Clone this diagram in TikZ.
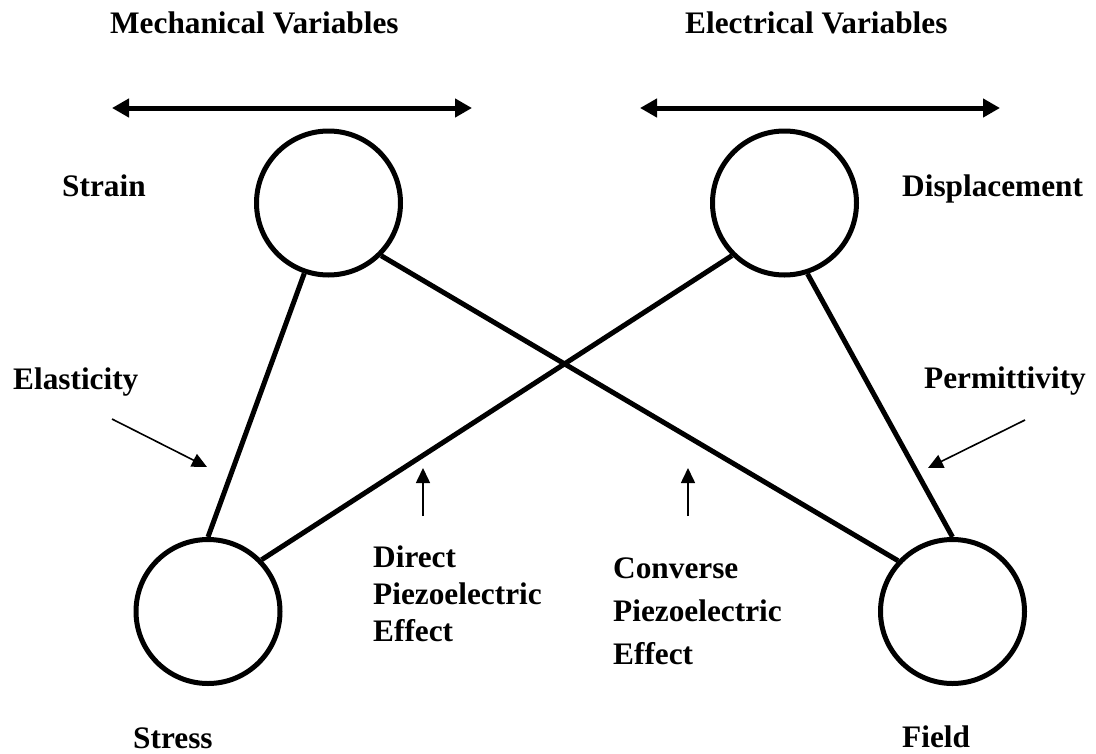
\documentclass[tikz,border=0pt]{standalone}
\usepackage{fontspec}
\setmainfont{Liberation Serif}
\usetikzlibrary{arrows.meta}

\begin{document}
\begin{tikzpicture}[x=1pt,y=-1pt,
  label/.style={inner sep=0pt,anchor=base west,font=\fontsize{31.3}{36.6}\selectfont\bfseries,align=left},
  var/.style={circle,draw,line width=5pt,minimum size=144pt,inner sep=0pt},
  link/.style={line width=5pt},
  span/.style={line width=5pt,{Triangle[length=17pt,width=18pt]}-{Triangle[length=17pt,width=18pt]}},
  pointer/.style={line width=1.6pt,-{Triangle[length=15pt,width=14pt]}}]
\useasboundingbox (0,0) rectangle (1096,753);

% variable circles
\node[var] (strain) at (328.5,203) {};
\node[var] (disp)   at (784.5,203) {};
\node[var] (stress) at (208,611.5) {};
\node[var] (field)  at (952.5,611.5) {};

% couplings between the variables
\draw[link] (strain.251) -- (stress.90);
\draw[link] (disp.288)   -- (field.90);
\draw[link] (strain.315) -- (field.137);
\draw[link] (stress.44)  -- (disp.225);

% headings
\node[label] (mech) at (110,33) {Mechanical Variables};
\node[label] (elec) at (685,33) {Electrical Variables};
\coordinate (m1) at (112,108);
\coordinate (m2) at (472,108);
\coordinate (e1) at (640,108);
\coordinate (e2) at (1000,108);
\draw[span] (m1) -- (m2);
\draw[span] (e1) -- (e2);

% variable names
\node[label] (tstrain) at (62,196) {Strain};
\node[label] (tdisp)   at (902,196) {Displacement};
\node[label] (tstress) at (133,748) {Stress};
\node[label] (tfield)  at (902,747) {Field};

% property labels (base anchor of a multi-line node sits low, hence the offsets)
\node[label] (elast) at (13,389) {Elasticity};
\node[label] (perm)  at (924,388) {Permittivity};
\node[label] (direct) at (373,641) {Direct\\Piezoelectric\\Effect};
\node[label,font=\fontsize{31.3}{43}\selectfont\bfseries] (conv) at (613,664) {Converse\\Piezoelectric\\Effect};

% pointers
\coordinate (ea) at (112,419);
\coordinate (eb) at (207,467);
\coordinate (pa) at (1025,420);
\coordinate (pb) at (928,468);
\coordinate (da) at (423,516);
\coordinate (db) at (423,468);
\coordinate (ca) at (688,516);
\coordinate (cb) at (688,468);
\draw[pointer] (ea) -- (eb);
\draw[pointer] (pa) -- (pb);
\draw[pointer] (da) -- (db);
\draw[pointer] (ca) -- (cb);
\end{tikzpicture}
\end{document}
